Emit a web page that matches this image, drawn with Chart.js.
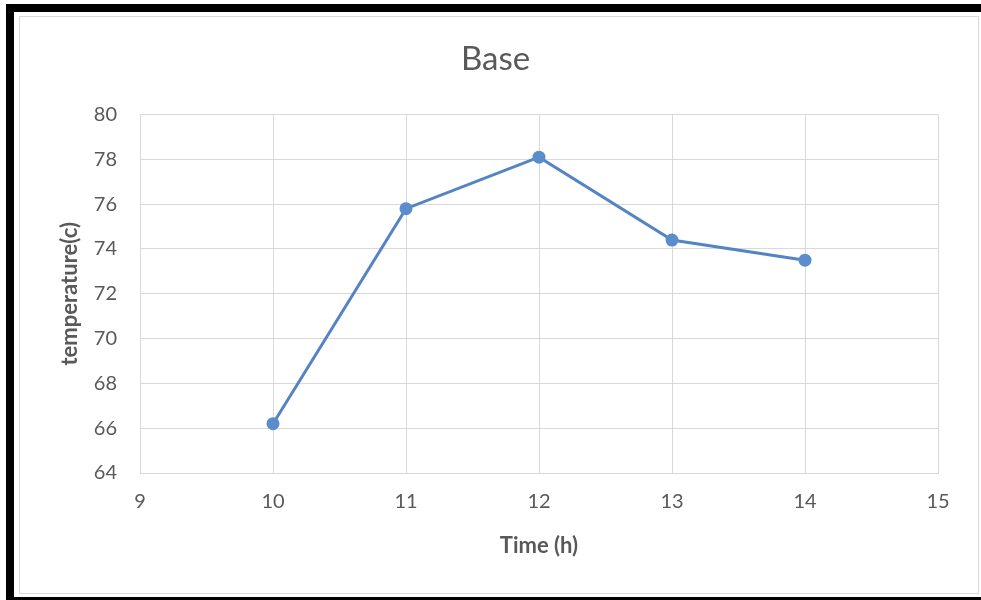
<!DOCTYPE html>
<html>
<head>
<meta charset="utf-8">
<script src="https://cdn.jsdelivr.net/npm/chart.js@4.4.1/dist/chart.umd.min.js"></script>
<style>
  body { margin: 0; background: #fff; }
  #frame { position: absolute; left: 6px; top: 4px; width: 975px; height: 596px;
           border-top: 8px solid #000; border-left: 8px solid #000; border-bottom: 3px solid #000;
           box-sizing: border-box; }
  #inner { position: absolute; left: 19px; top: 16px; width: 960px; height: 578px;
           border: 1px solid #d9d9d9; box-sizing: border-box; }
  #myChart { position: absolute; left: 0; top: 0; }
</style>
</head>
<body>
<div id="frame"></div>
<div id="inner"></div>
<canvas id="myChart" width="981" height="600"></canvas>
<script>
const timeHours = [10, 11, 12, 13, 14];
const temperature = [66.2, 75.8, 78.1, 74.4, 73.5];
const chartTitle = "Base";
const xTitle = "Time (h)";
const yTitle = "temperature(c)";

const points = [];
for (let i = 0; i < timeHours.length; i++) {
  points.push({ x: timeHours[i], y: temperature[i] });
}

const gray = "#595959";
const gridGray = "#d9d9d9";

const ctx = document.getElementById("myChart");
const myChart = new Chart(ctx, {
  type: "line",
  data: {
    datasets: [
      {
        data: points,
        borderColor: "#5584c4",
        backgroundColor: "#5584c4",
        borderWidth: 3,
        pointRadius: 5,
        pointBackgroundColor: "#5b8dcc",
        pointBorderColor: "#5b8dcc",
        tension: 0,
      },
    ],
  },
  options: {
    responsive: false,
    animation: false,
    devicePixelRatio: 1,
    layout: { padding: { left: 53, right: 43, top: 0, bottom: 37 } },
    plugins: {
      legend: { display: false },
      tooltip: { enabled: false },
      title: {
        display: true,
        text: chartTitle,
        color: gray,
        font: { family: "Lato", size: 33, weight: "normal" },
        padding: { top: 40, bottom: 35 },
      },
    },
    scales: {
      x: {
        type: "linear",
        min: 9,
        max: 15,
        ticks: { stepSize: 1, color: gray, font: { family: "Lato", size: 20 }, padding: 17 },
        grid: { color: gridGray, drawTicks: false },
        border: { color: gridGray },
        title: { display: true, text: xTitle, color: gray, font: { family: "Lato", size: 22, weight: "bold" } },
        afterFit: function (scale) { scale.height = 90; },
      },
      y: {
        min: 64,
        max: 80,
        ticks: { stepSize: 2, color: gray, font: { family: "Lato", size: 20 }, padding: 23 },
        grid: { color: gridGray, drawTicks: false },
        border: { color: gridGray },
        title: { display: true, text: yTitle, color: gray, font: { family: "Lato", size: 22, weight: "bold" } },
        afterFit: function (scale) { scale.width = 87; },
      },
    },
  },
});
</script>
</body>
</html>
